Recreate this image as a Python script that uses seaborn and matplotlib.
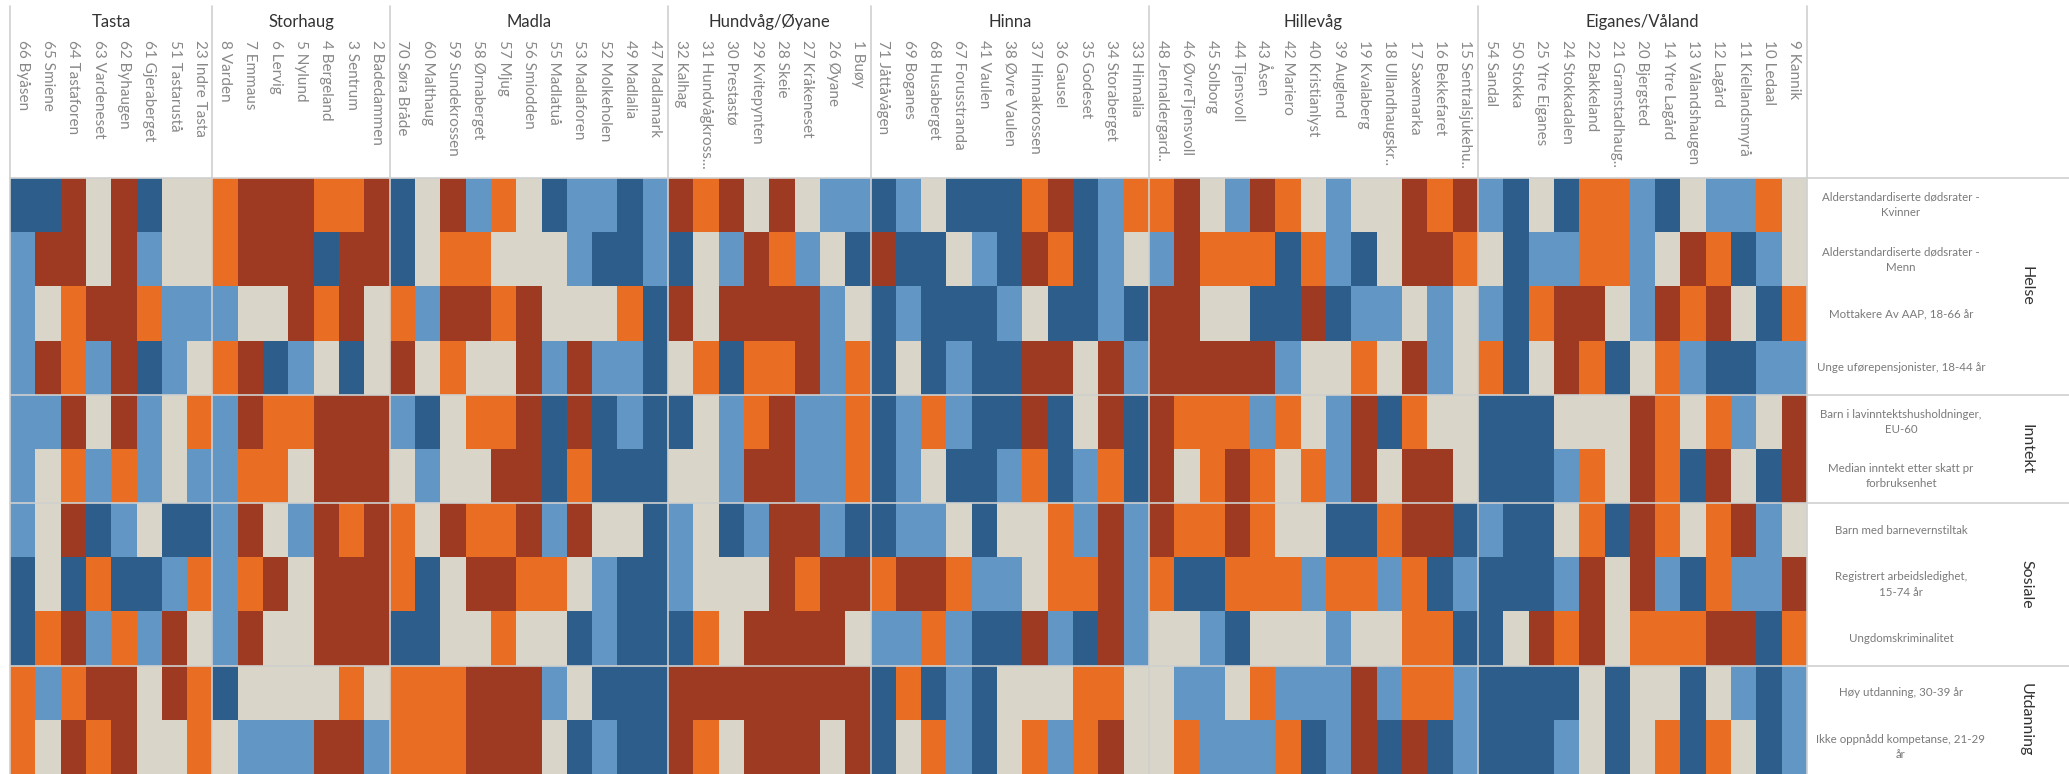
import matplotlib.pyplot as plt
import numpy as np
import pandas as pd
import seaborn as sns
from matplotlib import transforms
from matplotlib.colors import ListedColormap

# bydeler og delomraader (kolonner)
bydeler = ['Tasta', 'Storhaug', 'Madla', 'Hundvåg/Øyane', 'Hinna', 'Hillevåg', 'Eiganes/Våland']
tasta = ['66 Byåsen', '65 Smiene', '64 Tastaforen', '63 Vardeneset', '62 Byhaugen',
         '61 Gjeraberget', '51 Tastarustå', '23 Indre Tasta']
storhaug = ['8 Varden', '7 Emmaus', '6 Lervig', '5 Nylund', '4 Bergeland', '3 Sentrum', '2 Badedammen']
madla = ['70 Søra Bråde', '60 Malthaug', '59 Sundekrossen', '58 Ørnaberget', '57 Mjug', '56 Smiodden',
         '55 Madlatuå', '53 Madlaforen', '52 Molkeholen', '49 Madlalia', '47 Madlamark']
hundvag = ['32 Kalhag', '31 Hundvågkross...', '30 Prestastø', '29 Kvitepynten', '28 Skeie',
           '27 Kråkeneset', '26 Øyane', '1 Buøy']
hinna = ['71 Jåttåvågen', '69 Boganes', '68 Husaberget', '67 Forusstranda', '41 Vaulen', '38 Øvre Vaulen',
         '37 Hinnakrossen', '36 Gausel', '35 Godeset', '34 Storaberget', '33 Hinnalia']
hillevag = ['48 Jernaldergard..', '46 ØvreTjensvoll', '45 Solborg', '44 Tjensvoll', '43 Åsen', '42 Mariero',
            '40 Kristianlyst', '39 Auglend', '19 Kvalaberg', '18 Ullandhaugskr..', '17 Saxemarka',
            '16 Bekkefaret', '15 Sentralsjukehu..']
eiganes = ['54 Sandal', '50 Stokka', '25 Ytre Eiganes', '24 Stokkadalen', '22 Bakkeland', '21 Gramstadhaug..',
           '20 Bjergsted', '14 Ytre Lagård', '13 Vålandshaugen', '12 Lagård', '11 Kiellandsmyrå',
           '10 Ledaal', '9 Kannik']
omrader = [tasta, storhaug, madla, hundvag, hinna, hillevag, eiganes]

# temaer og indikatorer (rader)
temaer = ['Helse', 'Inntekt', 'Sosiale', 'Utdanning']
helse = ['Alderstandardiserte dødsrater -\nKvinner', 'Alderstandardiserte dødsrater -\nMenn',
         'Mottakere Av AAP, 18-66 år', 'Unge uførepensjonister, 18-44 år']
inntekt = ['Barn i lavinntektshusholdninger,\nEU-60', 'Median inntekt etter skatt pr\nforbruksenhet']
sosiale = ['Barn med barnevernstiltak', 'Registrert arbeidsledighet,\n15-74 år', 'Ungdomskriminalitet']
utdanning = ['Høy utdanning, 30-39 år', 'Ikke oppnådd kompetanse, 21-29\når']
indikatorer = [helse, inntekt, sosiale, utdanning]

# klasse per celle, en streng per indikator (71 tegn, i kolonnerekkefolge)
# D = mørk blå, L = lys blå, G = grå, O = oransje, R = mørk rød
klasse_koder = ['D', 'L', 'G', 'O', 'R']
klasse_farger = ['#2c5d8b', '#6296c4', '#d9d5c9', '#e96e24', '#9e3a22']
helse_klasser = [
  'DDRGRDGGORRR' + 'OORDGRLOGDLL' + 'DLRORGRGLLDL' + 'GDDDORDLOORG' + 'LROGLGGRORLD' + 'GDOOLDGLLOG',
  'LRRGRLGGORRR' + 'DRRDGOOGGGLD' + 'DLDGLROLGDRD' + 'DGLDRODLGLRO' + 'OODOLDGRROGD' + 'LLOOLGRODLG',
  'LGORROLLLGGR' + 'ORGOLRRORGGG' + 'ODRGRRRRLGDL' + 'DDDLGDDLDRRG' + 'GDDRDLLGLGLD' + 'ORRGLRORGDO',
  'LROLRDLGORDL' + 'GDGRGOGGRLRL' + 'LDGODOORLODG' + 'DLDDRRGRLRRR' + 'RRLGGOGRLGOD' + 'GRODGOLDDLL',
]
inntekt_klasser = [
  'LLRGRLGOLROO' + 'RRRLDGOORDRD' + 'LDDGLORLLODL' + 'OLDDRDGRDROO' + 'OLOGLRDOGGDD' + 'DGGGROGOLGR',
  'LGOLOLGLLOOG' + 'RRRGLGGRRDOD' + 'DDGGLRRLLODL' + 'GDDLODLODRGO' + 'ROGOLRGRRGDD' + 'DLOGRODRGDR',
]
sosiale_klasser = [
  'LGRDLGDDLRGL' + 'ROROGROORLRG' + 'GDLGDLRRLDDL' + 'LGDGGOLRLROO' + 'ROGGDDORRDLD' + 'DGODROGORLG',
  'DGDODDLOLORG' + 'RRRODGRROOGL' + 'DDLGGGRORROR' + 'ROLLGOORLODD' + 'OOOLOOLODLDD' + 'DLRGRLDOLLR',
  'DORLOLRGLRGG' + 'RRRDDGGOGGDL' + 'DDDOGRRRRGLL' + 'OLDDRLDRLGGL' + 'DGGGLGGOODDG' + 'RORGOOORRDO',
]
utdanning_klasser = [
  'OLORRGRODGGG' + 'GOGOOORRRLGD' + 'DDRRRRRRRRDO' + 'DLDGGGOOGGLL' + 'GOLLLRLOOLDD' + 'DDGDGGDGLDL',
  'OGRORGGOGLLL' + 'RRLOOORRRGDL' + 'DDROGRRRGRDG' + 'OLDGOLORGGOL' + 'LLODLRDRDLDD' + 'DLGDGODOGDL',
]

alle_klasser = helse_klasser + inntekt_klasser + sosiale_klasser + utdanning_klasser
kolonner = [navn for gruppe in omrader for navn in gruppe]
rader = [navn for gruppe in indikatorer for navn in gruppe]
matrise = np.array([[klasse_koder.index(c) for c in rad] for rad in alle_klasser])
df = pd.DataFrame(matrise, index=rader, columns=kolonner)

sns.set_style('white')
plt.rcParams['font.family'] = ['Lato', 'DejaVu Sans']

W, H = 2069, 774
fig = plt.figure(figsize=(W / 100, H / 100), dpi=100)
ax = fig.add_axes([10 / W, 0, (1807 - 10) / W, 596 / H])
sns.heatmap(df, ax=ax, cmap=ListedColormap(klasse_farger), vmin=-0.5, vmax=4.5,
            cbar=False, xticklabels=False, yticklabels=False)
ax.set_xlabel('')
ax.set_ylabel('')

linje = '#cfcfcf'
x_fig = transforms.blended_transform_factory(ax.transData, fig.transFigure)
y_fig = transforms.blended_transform_factory(fig.transFigure, ax.transData)

# vertikale skillelinjer mellom bydeler
grenser = np.cumsum([0] + [len(g) for g in omrader])
for g in grenser:
  ax.plot([g, g], [0, 1 - 6 / H], transform=x_fig, color=linje, lw=1.2, clip_on=False)

# horisontale skillelinjer mellom temaer
rad_grenser = np.cumsum([0] + [len(g) for g in indikatorer])
for g in rad_grenser[:-1]:
  ax.plot([10 / W, 1], [g, g], transform=y_fig, color=linje, lw=1.2, clip_on=False)

# bydelsnavn og delomraader
for i, navn in enumerate(bydeler):
  midt = (grenser[i] + grenser[i + 1]) / 2
  ax.text(midt, 1 - 22 / H, navn, transform=x_fig, ha='center', va='center',
          fontsize=12, color='#333333')
for i, navn in enumerate(kolonner):
  ax.text(i + 0.5, 1 - 40 / H, navn, transform=x_fig, rotation=-90, ha='center', va='top',
          fontsize=11, color='#888888')

# indikatorer og temaer til hoyre
for i, navn in enumerate(rader):
  ax.text(1901 / W, i + 0.5, navn, transform=y_fig, ha='center', va='center',
          multialignment='center', fontsize=8.3, color='#7a7a7a', linespacing=1.5)
for i, navn in enumerate(temaer):
  midt = (rad_grenser[i] + rad_grenser[i + 1]) / 2
  ax.text(2026 / W, midt, navn, transform=y_fig, rotation=-90, ha='center', va='center',
          fontsize=11.5, color='#333333')

fig.savefig('out.png', dpi=100)
